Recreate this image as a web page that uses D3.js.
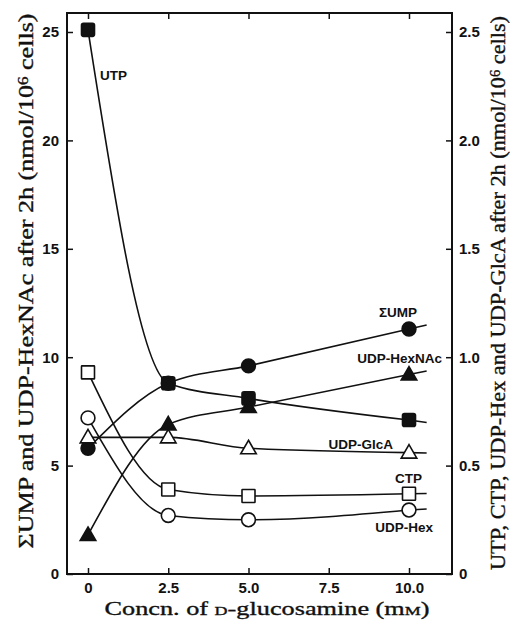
<!DOCTYPE html>
<html>
<head>
<meta charset="utf-8">
<script src="https://cdn.jsdelivr.net/npm/d3@7"></script>
<style>
    body { margin: 0; background: #fff; }
    #chart { width: 511px; height: 622px; }
    .tick text { font-family: "Liberation Sans", Arial, sans-serif; font-weight: bold; font-size: 15px; fill: #111; }
    .tick line { stroke: #111; stroke-width: 1.5; }
    .seriesLabel { font-family: "Liberation Sans", Arial, sans-serif; font-weight: bold; font-size: 13.5px; fill: #111; }
    .axisTitle { font-family: "Liberation Serif", "Times New Roman", serif; font-size: 21px; fill: #111; stroke: #111; stroke-width: 0.35px; }
</style>
</head>
<body>
<div id="chart"></div>
<script>
// data (x = concn. of D-glucosamine, mM)
const concn = [0, 2.5, 5, 10];
// left axis series
const sumpVals = [5.8, 8.8, 9.6, 11.3];
const hexnacVals = [1.8, 6.9, 7.7, 9.2];
// right axis series
const utpVals = [2.51, 0.88, 0.81, 0.71];
const ctpVals = [0.93, 0.39, 0.36, 0.37];
const udpHexVals = [0.72, 0.27, 0.25, 0.295];
const glcaVals = [0.63, 0.63, 0.58, 0.56];
// ticks
const xTicks = [0, 2.5, 5, 7.5, 10];
const xTickLabels = ["0", "2.5", "5.0", "7.5", "10.0"];
const leftTicks = [0, 5, 10, 15, 20, 25];
const rightTicks = [0, 0.5, 1, 1.5, 2, 2.5];
const rightTickLabels = ["0", "0.5", "1.0", "1.5", "2.0", "2.5"];

//define dim
const width = 511;
const height = 622;
const frame = { left: 67, right: 452, top: 13, bottom: 574 };

const svg = d3.select("#chart")
    .append("svg")
    .attr("width", width)
    .attr("height", height);

//scales
const xScale = d3.scaleLinear().domain([0, 10]).range([88, 409]);
const yLeft = d3.scaleLinear().domain([0, 25]).range([frame.bottom, 32]);
const yRight = d3.scaleLinear().domain([0, 2.5]).range([frame.bottom, 32]);

//axes (inward ticks, frame drawn separately)
svg.append("g")
    .attr("transform", `translate(0,${frame.bottom})`)
    .call(d3.axisBottom(xScale).tickValues(xTicks).tickFormat((d, i) => xTickLabels[i])
        .tickSizeInner(-6).tickSizeOuter(0).tickPadding(8))
    .call(g => g.select(".domain").remove());
svg.append("g")
    .attr("transform", `translate(0,${frame.top})`)
    .call(d3.axisTop(xScale).tickValues(xTicks).tickFormat("")
        .tickSizeInner(-6).tickSizeOuter(0))
    .call(g => g.select(".domain").remove());
svg.append("g")
    .attr("transform", `translate(${frame.left},0)`)
    .call(d3.axisLeft(yLeft).tickValues(leftTicks).tickFormat(d3.format("d"))
        .tickSizeInner(-6).tickSizeOuter(0).tickPadding(8))
    .call(g => g.select(".domain").remove());
svg.append("g")
    .attr("transform", `translate(${frame.right},0)`)
    .call(d3.axisRight(yRight).tickValues(rightTicks).tickFormat((d, i) => rightTickLabels[i])
        .tickSizeInner(-6).tickSizeOuter(0).tickPadding(7))
    .call(g => g.select(".domain").remove());

svg.append("rect")
    .attr("x", frame.left)
    .attr("y", frame.top)
    .attr("width", frame.right - frame.left)
    .attr("height", frame.bottom - frame.top)
    .attr("fill", "none")
    .attr("stroke", "#111")
    .attr("stroke-width", 2);

//series
const series = [
    { vals: sumpVals, y: yLeft, marker: "circle", filled: true },
    { vals: hexnacVals, y: yLeft, marker: "triangle", filled: true },
    { vals: utpVals, y: yRight, marker: "square", filled: true },
    { vals: ctpVals, y: yRight, marker: "square", filled: false },
    { vals: udpHexVals, y: yRight, marker: "circle", filled: false },
    { vals: glcaVals, y: yRight, marker: "triangle", filled: false }
];

const line = d3.line().curve(d3.curveMonotoneX);
const tailLen = 0.55;

series.forEach(function(s) {
    const pts = concn.map((c, i) => [xScale(c), s.y(s.vals[i])]);
    svg.append("path")
        .attr("d", line(pts))
        .attr("fill", "none")
        .attr("stroke", "#111")
        .attr("stroke-width", 1.6);
    // short tail past the last point along the last segment
    const n = concn.length;
    const slope = (s.vals[n - 1] - s.vals[n - 2]) / (concn[n - 1] - concn[n - 2]);
    const tailX = concn[n - 1] + tailLen;
    const tailY = s.vals[n - 1] + slope * tailLen;
    svg.append("path")
        .attr("d", d3.line()([pts[n - 1], [xScale(tailX), s.y(tailY)]]))
        .attr("stroke", "#111")
        .attr("stroke-width", 1.6);
});

//markers
series.forEach(function(s) {
    const g = svg.append("g");
    const fill = s.filled ? "#111" : "#fff";
    concn.forEach(function(c, i) {
        const cx = xScale(c);
        const cy = s.y(s.vals[i]);
        if (s.marker === "square") {
            g.append("rect")
                .attr("x", cx - 6.5).attr("y", cy - 6.5)
                .attr("width", 13).attr("height", 13)
                .attr("rx", s.filled ? 2 : 0.5)
                .attr("fill", fill).attr("stroke", "#111").attr("stroke-width", 1.6);
        } else {
            const type = s.marker === "circle" ? d3.symbolCircle : d3.symbolTriangle;
            const size = s.marker === "circle" ? 150 : 105;
            g.append("path")
                .attr("transform", `translate(${cx},${cy + (s.marker === "triangle" ? 1 : 0)})`)
                .attr("d", d3.symbol().type(type).size(size)())
                .attr("fill", fill).attr("stroke", "#111").attr("stroke-width", 1.6);
        }
    });
});

//series labels
const labels = [
    { text: "UTP", x: 100, y: 80, anchor: "start" },
    { text: "ΣUMP", x: 417, y: 317, anchor: "end" },
    { text: "UDP-HexNAc", x: 442, y: 363, anchor: "end" },
    { text: "UDP-GlcA", x: 393, y: 449, anchor: "end" },
    { text: "CTP", x: 422, y: 483, anchor: "end" },
    { text: "UDP-Hex", x: 433, y: 532, anchor: "end" }
];
svg.selectAll(".seriesLabel")
    .data(labels)
    .enter()
    .append("text")
        .attr("class", "seriesLabel")
        .attr("x", d => d.x)
        .attr("y", d => d.y)
        .attr("text-anchor", d => d.anchor)
        .text(d => d.text);

//axis titles
function unitTitle(text, prefix) {
    text.append("tspan").text(prefix + " (nmol/10");
    text.append("tspan").attr("dy", "-0.4em").style("font-size", "0.65em").text("6");
    text.append("tspan").attr("dy", "0.26em").text(" cells)");
}

const leftTitle = svg.append("text")
    .attr("class", "axisTitle")
    .attr("text-anchor", "middle")
    .attr("textLength", 535)
    .attr("lengthAdjust", "spacingAndGlyphs")
    .attr("transform", "translate(33,281) rotate(-90)");
unitTitle(leftTitle, "ΣUMP and UDP-HexNAc after 2h");

const rightTitle = svg.append("text")
    .attr("class", "axisTitle")
    .attr("text-anchor", "middle")
    .attr("textLength", 554)
    .attr("lengthAdjust", "spacingAndGlyphs")
    .attr("transform", "translate(505,293) rotate(-90)");
unitTitle(rightTitle, "UTP, CTP, UDP-Hex and UDP-GlcA after 2h");

const xTitle = svg.append("text")
    .attr("class", "axisTitle")
    .attr("text-anchor", "middle")
    .attr("x", 267)
    .attr("y", 615)
    .attr("textLength", 325)
    .attr("lengthAdjust", "spacingAndGlyphs")
    .style("font-size", "19px");
xTitle.append("tspan").text("Concn. of ");
xTitle.append("tspan").style("font-variant", "small-caps").text("d");
xTitle.append("tspan").text("-glucosamine (m");
xTitle.append("tspan").style("font-variant", "small-caps").text("m");
xTitle.append("tspan").text(")");
</script>
</body>
</html>
